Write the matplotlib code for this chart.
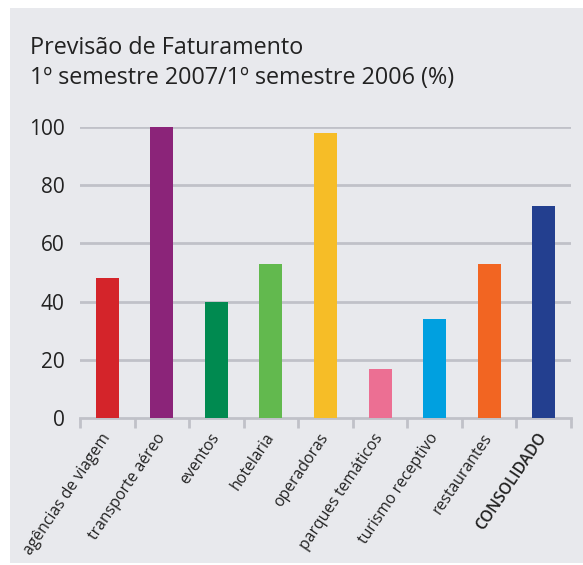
import matplotlib
matplotlib.use("Agg")
import matplotlib.pyplot as plt
from matplotlib.patches import Rectangle

categories = ["agências de viagem", "transporte aéreo", "eventos", "hotelaria",
              "operadoras", "parques temáticos", "turismo receptivo",
              "restaurantes", "CONSOLIDADO"]
values = [48, 100, 40, 53, 98, 17, 34, 53, 73]
colors = ["#d4242a", "#8b2479", "#008a50", "#62b94e", "#f6bd27",
          "#ec6f93", "#00a0e0", "#f26522", "#233f8f"]
yticks = [0, 20, 40, 60, 80, 100]

W, H = 583, 565
fig = plt.figure(figsize=(W/100, H/100), dpi=100)
fig.patch.set_facecolor("white")
bg = "#e8e9ed"
fig.patches.append(Rectangle((10/W, 2/H), 1 - 10/W, 1 - 10/H, transform=fig.transFigure,
                             facecolor=bg, edgecolor="none", zorder=-10))

fam = ["Open Sans", "DejaVu Sans"]
fig.text(30/W, 1 - 48/H, "Previsão de Faturamento", fontsize=16.8, family=fam,
         color="#222222", va="center", ha="left")
fig.text(30/W, 1 - 78/H, "1º semestre 2007/1º semestre 2006 (%)", fontsize=16.8, family=fam,
         color="#222222", va="center", ha="left")

left, right = 80, 571
top, bottom = 127, 418
ax = fig.add_axes([left/W, 1 - bottom/H, (right-left)/W, (bottom-top)/H])
ax.set_facecolor("none")
x = list(range(len(categories)))
ax.bar(x, values, width=0.42, color=colors, zorder=3)
ax.set_xlim(-0.5, len(categories) - 0.5)
ax.set_ylim(0, 100)
for s in ["top", "right", "left"]:
    ax.spines[s].set_visible(False)
ax.spines["bottom"].set_color("#c0c1c8")
ax.spines["bottom"].set_linewidth(2)
ax.set_yticks(yticks)
ax.set_yticklabels([str(v) for v in yticks], fontsize=15, family=fam, color="#222222")
ax.tick_params(axis="y", length=0, pad=11)
for v in yticks[1:]:
    ax.axhline(v, color="#c0c1c8", lw=2, zorder=1)
ax.set_xticks([i - 0.5 for i in range(len(categories) + 1)], minor=False)
ax.set_xticklabels([])
ax.tick_params(axis="x", length=7, width=2, color="#c0c1c8", direction="out")
ax.set_xticks(x, minor=True)
ax.set_xticklabels(categories, minor=True, rotation=56, ha="right", va="center",
                   rotation_mode="anchor", fontsize=11.3, family=fam, color="#222222")
ax.tick_params(axis="x", which="minor", length=0, pad=12)
for lbl in ax.get_xticklabels(minor=True):
    if lbl.get_text() == "CONSOLIDADO":
        lbl.set_fontweight("semibold")

fig.savefig("out.png", dpi=100, facecolor="white")
